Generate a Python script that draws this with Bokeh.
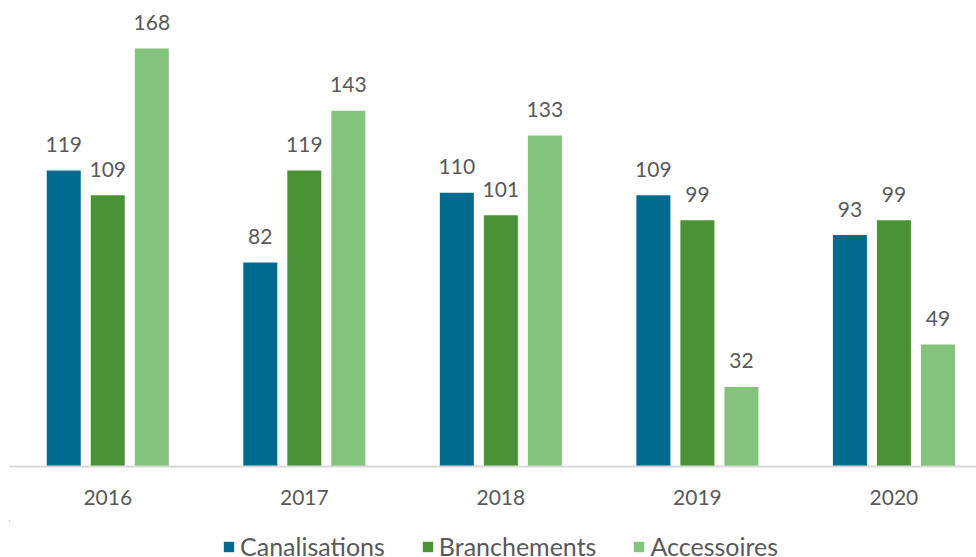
from bokeh.plotting import figure
from bokeh.layouts import column
from bokeh.models import ColumnDataSource, FixedTicker, Legend, LegendItem
from bokeh.transform import dodge
from bokeh.core.properties import value
from bokeh.embed import file_html
from bokeh.resources import INLINE

years = ["2016", "2017", "2018", "2019", "2020"]
canalisations = [119, 82, 110, 109, 93]
branchements = [109, 119, 101, 99, 99]
accessoires = [168, 143, 133, 32, 49]
series = ["Canalisations", "Branchements", "Accessoires"]
colors = ["#006B8F", "#4A9235", "#83C37C"]

FONT = "Lato"
TXT = "#595959"

xs = list(range(len(years)))
source = ColumnDataSource(dict(
    x=xs,
    c=canalisations, b=branchements, a=accessoires,
    cl=[str(v) for v in canalisations],
    bl=[str(v) for v in branchements],
    al=[str(v) for v in accessoires],
))

p = figure(width=976, height=520, x_range=(-0.5, 4.42), y_range=(0, 187.3),
           output_backend="svg", toolbar_location=None,
           min_border_left=9, min_border_right=0, min_border_top=0, min_border_bottom=54)

offsets = [-0.224, 0.0, 0.224]
keys = ["c", "b", "a"]
lkeys = ["cl", "bl", "al"]
for off, k, lk, col in zip(offsets, keys, lkeys, colors):
    p.vbar(x=dodge("x", off, range=p.x_range), top=k, width=0.173, bottom=0,
           source=source, fill_color=col, line_color=None)
    p.text(x=dodge("x", off, range=p.x_range), y=k, text=lk, source=source,
           text_align="center", text_baseline="alphabetic", y_offset=-26,
           text_font=value(FONT), text_font_size="21px", text_color=TXT)

p.xaxis.ticker = FixedTicker(ticks=xs)
p.xaxis.major_label_overrides = {i: y for i, y in enumerate(years)}
p.xaxis.major_label_text_font = FONT
p.xaxis.major_label_text_font_size = "21px"
p.xaxis.major_label_text_color = TXT
p.xaxis.major_label_standoff = 17
p.xaxis.major_tick_line_color = None
p.xaxis.minor_tick_line_color = None
p.xaxis.axis_line_color = "#D9D9D9"
p.xaxis.axis_line_width = 2
p.yaxis.visible = False
p.xgrid.visible = False
p.ygrid.visible = False
p.outline_line_color = None

# legend strip below the chart (its bars lie outside its view; only the legend shows)
lg = figure(width=976, height=37, x_range=(50, 51), y_range=(-10, -9),
            output_backend="svg", toolbar_location=None,
            min_border_left=0, min_border_right=0, min_border_top=0, min_border_bottom=0)
lg.axis.visible = False
lg.grid.visible = False
lg.outline_line_color = None
items = []
for k, col, name in zip(keys, colors, series):
    r = lg.vbar(x="x", top=k, bottom=0, width=0.1, source=source, fill_color=col, line_color=None)
    items.append(LegendItem(label=name, renderers=[r]))
legend = Legend(items=items, orientation="horizontal", location=(213, -4),
                label_text_font=FONT, label_text_font_size="25px", label_text_color=TXT,
                glyph_width=13, glyph_height=13, label_standoff=5, spacing=36,
                padding=0, margin=0, border_line_color=None, background_fill_alpha=0)
lg.add_layout(legend, "center")

layout = column(p, lg, spacing=0)
open("out.html", "w").write(file_html(layout, INLINE))
